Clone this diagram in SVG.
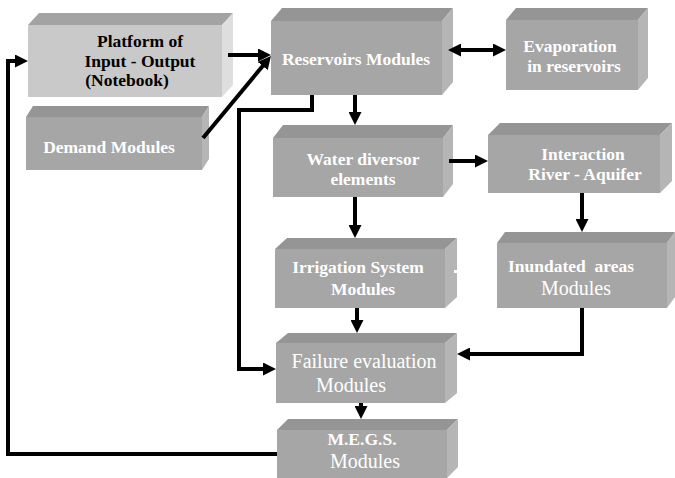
<svg xmlns="http://www.w3.org/2000/svg" width="675" height="478" viewBox="0 0 675 478">
  <style>
    .front { fill: #a6a6a6; }
    .top { fill: #959595; }
    .side { fill: #b5b5b5; }
    .pfront { fill: #c9c9c9; }
    .ptop { fill: #a3a3a3; }
    .pside { fill: #dedede; }
    text { font-family: "Liberation Serif", "Times New Roman", serif; text-anchor: middle; fill: #ffffff; }
    .b { font-weight: bold; font-size: 17.5px; }
    .r { font-size: 20px; }
    .dark { fill: #000000; }
    .conn { fill: none; stroke: #000000; stroke-width: 4; }
  </style>
  <defs>
    <marker id="arrow" markerUnits="userSpaceOnUse" markerWidth="13" markerHeight="13" refX="3" refY="6.5" orient="auto-start-reverse">
      <path d="M0,0 L13,6.5 L0,13 z" fill="#000000"/>
    </marker>
  </defs>

  <rect width="675" height="478" fill="#ffffff"/>

  <!-- Platform of Input - Output -->
  <g id="platform">
    <polygon class="ptop" points="28,25 39,13 233,13 222,25"/>
    <polygon class="pside" points="222,25 233,13 233,85 222,97"/>
    <rect class="pfront" x="28" y="25" width="194" height="72"/>
    <text class="b dark" x="140" y="47">Platform of</text>
    <text class="b dark" x="140" y="67">Input - Output</text>
    <text class="b dark" x="127" y="86">(Notebook)</text>
  </g>

  <!-- Demand Modules -->
  <g id="demand">
    <polygon class="top" points="26,117 33,106 209,106 202,117"/>
    <polygon class="side" points="202,117 209,106 209,159 202,170"/>
    <rect class="front" x="26" y="117" width="176" height="53"/>
    <text class="b" x="109" y="153">Demand Modules</text>
  </g>

  <!-- Reservoirs Modules -->
  <g id="reservoirs">
    <polygon class="top" points="271,21 282,8 453,8 442,21"/>
    <polygon class="side" points="442,21 453,8 453,82 442,95"/>
    <rect class="front" x="271" y="21" width="171" height="74"/>
    <text class="b" x="356" y="65">Reservoirs Modules</text>
  </g>

  <!-- Evaporation in reservoirs -->
  <g id="evaporation">
    <polygon class="top" points="506,20 516,8 648,8 638,20"/>
    <polygon class="side" points="638,20 648,8 648,78 638,90"/>
    <rect class="front" x="506" y="20" width="132" height="70"/>
    <text class="b" x="570" y="52">Evaporation</text>
    <text class="b" x="574" y="72">in reservoirs</text>
  </g>

  <!-- Water diversor elements -->
  <g id="water-diversor">
    <polygon class="top" points="273,138 283,125 453,125 443,138"/>
    <polygon class="side" points="443,138 453,125 453,184 443,197"/>
    <rect class="front" x="273" y="138" width="170" height="59"/>
    <text class="b" x="363" y="165">Water diversor</text>
    <text class="b" x="363" y="185">elements</text>
  </g>

  <!-- Interaction River - Aquifer -->
  <g id="interaction">
    <polygon class="top" points="488,135 500,123 672,123 660,135"/>
    <polygon class="side" points="660,135 672,123 672,181 660,193"/>
    <rect class="front" x="488" y="135" width="172" height="58"/>
    <text class="b" x="583" y="160">Interaction</text>
    <text class="b" x="585" y="180">River - Aquifer</text>
  </g>

  <!-- Irrigation System Modules -->
  <g id="irrigation">
    <polygon class="top" points="275,249 287,238 457,238 445,249"/>
    <polygon class="side" points="445,249 457,238 457,297 445,308"/>
    <rect class="front" x="275" y="249" width="170" height="59"/>
    <rect x="454" y="270" width="3" height="3" fill="#ffffff"/>
    <text class="b" x="358" y="273">Irrigation System</text>
    <text class="b" x="363" y="295">Modules</text>
  </g>

  <!-- Inundated areas Modules -->
  <g id="inundated">
    <polygon class="top" points="497,243 505,232 675,232 667,243"/>
    <polygon class="side" points="667,243 675,232 675,297 667,308"/>
    <rect class="front" x="497" y="243" width="170" height="65"/>
    <text class="b" x="571" y="272" xml:space="preserve">Inundated  areas</text>
    <text class="r" x="576" y="295">Modules</text>
  </g>

  <!-- Failure evaluation Modules -->
  <g id="failure">
    <polygon class="top" points="276,343 288,333 457,333 445,343"/>
    <polygon class="side" points="445,343 457,333 457,393 445,403"/>
    <rect class="front" x="276" y="343" width="169" height="60"/>
    <text class="r" x="364" y="368">Failure evaluation</text>
    <text class="r" x="351" y="392">Modules</text>
  </g>

  <!-- M.E.G.S. Modules -->
  <g id="megs">
    <polygon class="top" points="277,430 288,419 458,419 447,430"/>
    <polygon class="side" points="447,430 458,419 458,467 447,478"/>
    <rect class="front" x="277" y="430" width="170" height="48"/>
    <text class="b" x="362" y="445">M.E.G.S.</text>
    <text class="r" x="365" y="468">Modules</text>
  </g>

  <!-- Connectors -->
  <g id="connectors">
    <line class="conn" x1="228" y1="55" x2="261" y2="55" marker-end="url(#arrow)"/>
    <line class="conn" x1="203" y1="138" x2="264.6" y2="63.7" stroke-width="3" marker-end="url(#arrow)"/>
    <line class="conn" x1="458" y1="50" x2="496" y2="50" marker-start="url(#arrow)" marker-end="url(#arrow)"/>
    <line class="conn" x1="355" y1="95" x2="355" y2="115" marker-end="url(#arrow)"/>
    <path class="conn" d="M312,95 V110 H239 V369 H266" marker-end="url(#arrow)"/>
    <line class="conn" x1="449" y1="161" x2="478" y2="161" marker-end="url(#arrow)"/>
    <line class="conn" x1="355" y1="197" x2="355" y2="228" marker-end="url(#arrow)"/>
    <line class="conn" x1="582" y1="193" x2="582" y2="222" marker-end="url(#arrow)"/>
    <line class="conn" x1="357" y1="308" x2="357" y2="323" marker-end="url(#arrow)"/>
    <path class="conn" d="M582,308 V354 H467" marker-end="url(#arrow)"/>
    <line class="conn" x1="361" y1="403" x2="361" y2="409" marker-end="url(#arrow)"/>
    <path class="conn" d="M277,454 H8 V61 H18" marker-end="url(#arrow)"/>
  </g>
</svg>
